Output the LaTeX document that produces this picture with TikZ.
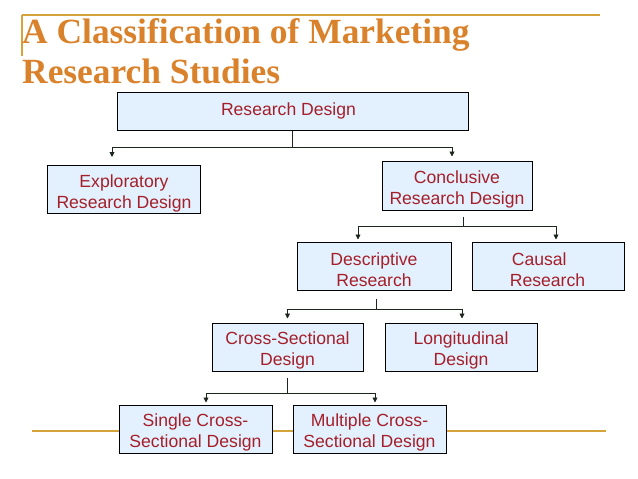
\documentclass[tikz,border=0pt]{standalone}
\usepackage{fontspec}
\setmainfont{Liberation Serif}
\newfontfamily\boxfont{Liberation Sans}
\usetikzlibrary{arrows.meta}
\definecolor{titleorange}{HTML}{D9822B}
\definecolor{rulegold}{HTML}{D4A43A}
\definecolor{boxfill}{HTML}{E2F1FD}
\definecolor{boxtext}{HTML}{A51F2A}
\definecolor{linkcol}{HTML}{1C261C}
\newcommand\tstrut{\rule{0pt}{20pt}}
\tikzset{
  rbox/.style={draw=black, line width=1pt, fill=boxfill, text=boxtext,
    font=\boxfont\fontsize{17.6}{21}\selectfont, align=center,
    inner sep=0pt, minimum width=#1, minimum height=48pt},
  rbox/.default=152pt,
  titletext/.style={text=titleorange, font=\bfseries\fontsize{35.4}{40}\selectfont,
    inner sep=0pt, anchor=base west},
  goldrule/.style={draw=rulegold, line width=1.4pt},
  link/.style={draw=linkcol, line width=0.9pt},
  arr/.style={link, -{Triangle[length=5pt,width=5pt]}},
}
\begin{document}
\begin{tikzpicture}[x=1pt,y=-1pt]
\useasboundingbox (0,0) rectangle (638,479);
% rules
\draw[goldrule] (22,15) -- (600,15);
\draw[goldrule] (22,15) -- (22,56);
\draw[goldrule] (32,431) -- (606,431);
% title
\node[titletext] (t1) at (22,43) {A Classification of Marketing};
\node[titletext] (t2) at (22,83) {Research Studies};
% boxes
\node[rbox=351pt, minimum height=38pt] (rd) at (292.5,111) {\hspace*{-8pt}Research Design};
\node[rbox=153pt] (exp) at (124,189.5) {\tstrut Exploratory\\Research Design};
\node[rbox=150pt, minimum height=49pt] (con) at (457,185.5) {\tstrut Conclusive\\Research Design};
\node[rbox=154pt] (des) at (374,266) {\tstrut Descriptive\\Research};
\node[rbox=152pt, align=left] (cau) at (548,266) {\tstrut\hspace*{2pt}Causal\\Research\hspace*{1pt}};
\node[rbox=151pt] (cs) at (287.5,347) {\tstrut Cross-Sectional\\Design};
\node[rbox=152pt] (lon) at (461,347) {\tstrut Longitudinal\\Design};
\node[rbox=153pt] (sc) at (195.5,429) {\tstrut Single Cross-\\Sectional Design};
\node[rbox=153pt] (mc) at (369.5,429) {\tstrut Multiple Cross-\\Sectional Design};
% connectors
\draw[link] (rd.south) -- ++(0,17) coordinate (j1);
\draw[arr] (j1) -| ([shift={(-12,-8)}]exp.north);
\draw[arr] (j1) -| ([shift={(-5,-4)}]con.north);
\draw[link] ([shift={(6,6)}]con.south) -- ++(0,10) coordinate (j2);
\draw[arr] (j2) -| ([shift={(-16,-2)}]des.north);
\draw[arr] (j2) -| ([shift={(8,-2)}]cau.north);
\draw[link] ([shift={(2,8)}]des.south) -- ++(0,11) coordinate (j3);
\draw[arr] (j3) -| ([shift={(0,-4)}]cs.north);
\draw[arr] (j3) -| ([shift={(1,-4)}]lon.north);
\draw[link] ([shift={(0,6)}]cs.south) -- ++(0,16) coordinate (j4);
\draw[arr] (j4) -| ([shift={(10.5,-2)}]sc.north);
\draw[arr] (j4) -| ([shift={(5.5,-2)}]mc.north);
\end{tikzpicture}
\end{document}
